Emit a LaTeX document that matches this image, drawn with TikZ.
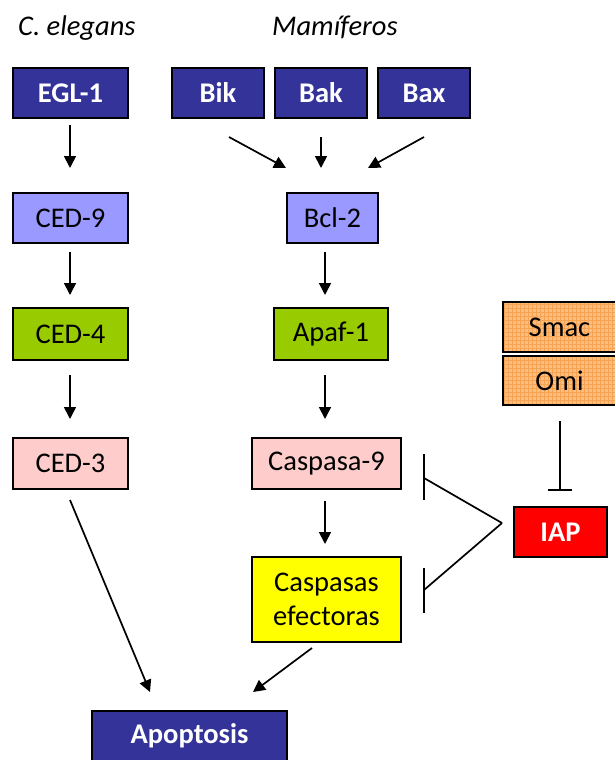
\documentclass[tikz,border=0pt]{standalone}
\usepackage{fontspec}
\setmainfont{Carlito}
\usetikzlibrary{arrows.meta}
\definecolor{dblue}{RGB}{51,51,153}
\definecolor{lpurple}{RGB}{153,153,255}
\definecolor{lgreen}{RGB}{153,204,0}
\definecolor{lpink}{RGB}{255,204,204}
\definecolor{yel}{RGB}{255,255,0}
\definecolor{iapred}{RGB}{255,0,0}
\definecolor{smacfill}{RGB}{251,190,128}
\definecolor{smacgrid}{RGB}{247,163,82}
\tikzset{
  box/.style={draw=black, line width=2pt, inner sep=0pt, minimum height=50pt,
    font=\fontsize{28.5}{32}\selectfont, align=center},
  dbox/.style={box, fill=dblue, text=white, font=\fontsize{28.5}{32}\selectfont\bfseries},
  arr/.style={line width=1.7pt, -{Triangle[length=12pt,width=12pt]}},
  inh/.style={line width=1.7pt},
  title/.style={font=\fontsize{28.5}{32}\selectfont\itshape, anchor=base west, inner sep=0pt}
}
\begin{document}
\begin{tikzpicture}[x=1pt,y=-1pt]
\useasboundingbox (0,0) rectangle (615,760);
% titles
\node[title] (tce) at (18,36) {C. elegans};
\node[title] (tma) at (272,36) {Mamíferos};
% C. elegans column
\node[dbox, minimum width=115pt] (egl) at (70.5,93) {EGL-1};
\node[box, fill=lpurple, minimum width=115pt] (ced9) at (70.5,218) {CED-9};
\node[box, fill=lgreen, minimum width=115pt, minimum height=52pt] (ced4) at (70.5,334) {CED-4};
\node[box, fill=lpink, minimum width=115pt, minimum height=51pt] (ced3) at (70.5,463.5) {CED-3};
% mammals
\node[dbox, minimum width=92pt] (bik) at (218,93) {Bik};
\node[dbox, minimum width=92pt] (bak) at (321,93) {Bak};
\node[dbox, minimum width=92pt] (bax) at (424,93) {Bax};
\node[box, fill=lpurple, minimum width=91pt] (bcl) at (332.5,218) {Bcl-2};
\node[box, fill=lgreen, minimum width=114pt, minimum height=52pt] (apaf) at (331,334) {Apaf-1};
\node[box, fill=lpink, minimum width=149pt, minimum height=51pt] (casp9) at (326.5,463.5) {Caspasa-9};
\node[box, fill=yel, minimum width=149pt, minimum height=85pt, font=\fontsize{28.5}{34}\selectfont] (eff) at (326.5,599.5) {Caspasas\\efectoras};
\node[dbox, minimum width=195pt] (apo) at (189.5,736) {Apoptosis};
% Smac / Omi
\foreach \nm/\cy/\h in {smac/327/50, omi/380.5/49}{
  \fill[smacfill] (503,\cy-\h/2) rectangle (616,\cy+\h/2);
  \begin{scope}
    \clip (503,\cy-\h/2) rectangle (616,\cy+\h/2);
    \draw[smacgrid, line width=0.7pt, step=4pt] (500,\cy-\h/2-4) grid (620,\cy+\h/2+4);
  \end{scope}
}
\node[box, minimum width=113pt, minimum height=50pt] (smac) at (559.5,327) {Smac};
\node[box, minimum width=113pt, minimum height=49pt] (omi) at (559.5,380.5) {Omi};
\node[box, fill=iapred, text=white, font=\fontsize{28.5}{32}\selectfont\bfseries, minimum width=93pt] (iap) at (560.5,532) {IAP};
% arrows C. elegans
\draw[arr] ([shift={(-0.5,6)}]egl.south) -- ([shift={(-0.5,-24)}]ced9.north);
\draw[arr] ([shift={(-0.5,8)}]ced9.south) -- ([shift={(-0.5,-12)}]ced4.north);
\draw[arr] ([shift={(-0.5,14)}]ced4.south) -- ([shift={(-0.5,-18)}]ced3.north);
\draw[arr] ([shift={(-0.5,10)}]ced3.south) -- ([shift={(-39.5,-18)}]apo.north);
% arrows mammals
\draw[arr] ([shift={(11,18)}]bik.south) -- ([shift={(0,-24)}]bcl.north west);
\draw[arr] ([shift={(0,18)}]bak.south) -- ([shift={(-11.5,-24)}]bcl.north);
\draw[arr] ([shift={(0,18)}]bax.south) -- ([shift={(-11,-24)}]bcl.north east);
\draw[arr] ([shift={(-7.5,8)}]bcl.south) -- ([shift={(-6,-12)}]apaf.north);
\draw[arr] ([shift={(-6,14)}]apaf.south) -- ([shift={(-1.5,-18)}]casp9.north);
\draw[arr] ([shift={(-1.5,11)}]casp9.south) -- ([shift={(-1.5,-12)}]eff.north);
\draw[arr] ([shift={(-14.5,5)}]eff.south) -- ([shift={(63.5,-18)}]apo.north);
% inhibition by IAP
\coordinate (v) at ([shift={(-11,-9)}]iap.west);
\coordinate (b1) at ([shift={(22,14.5)}]casp9.east);
\coordinate (b2) at ([shift={(22,-9.5)}]eff.east);
\draw[inh] (v) -- (b1);
\draw[inh] (v) -- (b2);
\draw[inh] ([shift={(22,-9.5)}]casp9.east) -- ([shift={(22,36.5)}]casp9.east);
\draw[inh] ([shift={(22,-31.5)}]eff.east) -- ([shift={(22,13.5)}]eff.east);
% inhibition of IAP by Smac/Omi
\coordinate (tb) at ([shift={(0.5,84)}]omi.south);
\draw[inh] ([shift={(0.5,15)}]omi.south) -- (tb);
\draw[inh] ([xshift=-12pt]tb) -- ([xshift=12pt]tb);
\end{tikzpicture}
\end{document}
